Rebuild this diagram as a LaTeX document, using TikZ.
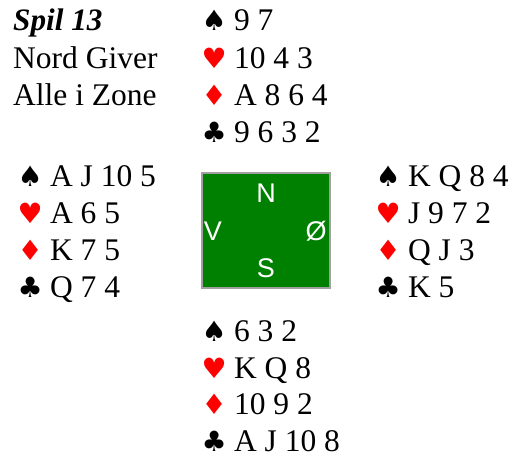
\documentclass[tikz,border=0pt]{standalone}
\usepackage{fontspec}
\setmainfont{Liberation Serif}
\newfontfamily\suitfont{DejaVu Sans}
\newfontfamily\boxfont{Liberation Sans}
\definecolor{tablegreen}{RGB}{0,128,0}
\definecolor{suitred}{RGB}{255,0,0}
\definecolor{boxgray}{RGB}{160,160,160}
\newcommand{\suitbox}[1]{\makebox[20pt][l]{\makebox[16pt][c]{\suitfont\fontsize{28}{29}\selectfont #1}}}
\newcommand{\Sp}{\suitbox{\char"2660}}
\newcommand{\He}{\suitbox{\color{suitred}\char"2665}}
\newcommand{\Di}{\suitbox{\color{suitred}\char"2666}}
\newcommand{\Cl}{\suitbox{\char"2663}}
\begin{document}
\begin{tikzpicture}[x=1pt,y=-1pt,
  hand/.style={anchor=base west,inner sep=0pt,font=\fontsize{31.5}{33}\selectfont},
  info/.style={anchor=base west,inner sep=0pt,font=\fontsize{31.5}{33}\selectfont},
  dir/.style={text=white,inner sep=0pt,font=\boxfont\fontsize{27}{28}\selectfont}]
\useasboundingbox (0,0) rectangle (512,457);
% info
\node[info,font=\fontsize{31.2}{33}\selectfont\bfseries\itshape] (t1) at (13,31) {Spil 13};
\node[info] (t2) at (13,69) {Nord Giver};
\node[info] (t3) at (13,106) {Alle i Zone};
% North
\node[hand] (n1) at (206,31) {\Sp\ 9 7};
\node[hand] (n2) at (206,69) {\He\ 10 4 3};
\node[hand] (n3) at (206,106) {\Di\ A 8 6 4};
\node[hand] (n4) at (206,143) {\Cl\ 9 6 3 2};
% West
\node[hand] (w1) at (22,187) {\Sp\ A J 10 5};
\node[hand] (w2) at (22,224) {\He\ A 6 5};
\node[hand] (w3) at (22,261) {\Di\ K 7 5};
\node[hand] (w4) at (22,298) {\Cl\ Q 7 4};
% East
\node[hand] (e1) at (380,187) {\Sp\ K Q 8 4};
\node[hand] (e2) at (380,224) {\He\ J 9 7 2};
\node[hand] (e3) at (380,261) {\Di\ Q J 3};
\node[hand] (e4) at (380,298) {\Cl\ K 5};
% South
\node[hand] (s1) at (206,342) {\Sp\ 6 3 2};
\node[hand] (s2) at (206,378) {\He\ K Q 8};
\node[hand] (s3) at (206,414) {\Di\ 10 9 2};
\node[hand] (s4) at (206,451) {\Cl\ A J 10 8};
% table
\draw[boxgray,line width=2pt,fill=tablegreen] (202,173) rectangle (330,288);
\node[dir] (dn) at (266,193) {N};
\node[dir] (dw) at (213,231) {V};
\node[dir] (de) at (316,231) {Ø};
\node[dir] (ds) at (266,268) {S};
\end{tikzpicture}
\end{document}
